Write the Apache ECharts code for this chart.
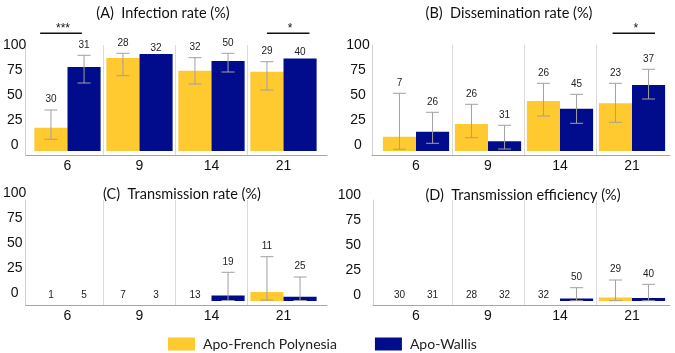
<!DOCTYPE html>
<html><head><meta charset="utf-8">
<script src="https://cdn.jsdelivr.net/npm/echarts@6/dist/echarts.min.js"></script>
<style>html,body{margin:0;padding:0;background:#fff}#c{width:675px;height:353px}</style>
</head><body><div id="c"></div>
<script>
// ---------- data ----------
const days = ['6', '9', '14', '21'];
const yTicks = [0, 25, 50, 75, 100];
const groups = ['Apo-French Polynesia', 'Apo-Wallis'];
const panelTitles = ['(A)  Infection rate (%)', '(B)  Dissemination rate (%)',
                     '(C)  Transmission rate (%)', '(D)  Transmission efficiency (%)'];

// (A) Infection rate
const infFrench   = [23.3, 92.9, 80.3, 79.3];
const infFrenchLo = [11.7, 75.3, 67.0, 61.0];
const infFrenchHi = [41.0, 97.7, 93.3, 89.3];
const infFrenchN  = [30, 28, 32, 29];
const infWallis   = [83.9, 96.9, 90.0, 92.5];
const infWallisLo = [68.0, null, 79.0, null];
const infWallisHi = [95.7, null, 97.7, null];
const infWallisN  = [31, 32, 50, 40];

// (B) Dissemination rate
const disFrench   = [14.3, 26.9, 50.0, 47.8];
const disFrenchLo = [1.7, 13.3, 35.0, 28.7];
const disFrenchHi = [57.7, 46.7, 67.7, 67.7];
const disFrenchN  = [7, 26, 26, 23];
const disWallis   = [19.2, 9.7, 42.2, 66.0];
const disWallisLo = [7.7, 2.0, 27.7, 52.0];
const disWallisHi = [38.7, 25.7, 56.7, 81.7];
const disWallisN  = [26, 31, 45, 37];

// (C) Transmission rate
const traFrench   = [0, 0, 0, 9.1];
const traFrenchLo = [null, null, null, 1.0];
const traFrenchHi = [null, null, null, 44.3];
const traFrenchN  = [1, 7, 13, 11];
const traWallis   = [0, 0, 5.5, 4.3];
const traWallisLo = [null, null, 0.5, 0.5];
const traWallisHi = [null, null, 28.7, 24.0];
const traWallisN  = [5, 3, 19, 25];

// (D) Transmission efficiency
const effFrench   = [0, 0, 0, 3.5];
const effFrenchLo = [null, null, null, 0.3];
const effFrenchHi = [null, null, null, 21.0];
const effFrenchN  = [30, 28, 32, 29];
const effWallis   = [0, 0, 2.5, 3.0];
const effWallisLo = [null, null, 0.3, 0.3];
const effWallisHi = [null, null, 13.3, 16.7];
const effWallisN  = [31, 32, 50, 40];

// significance annotations: panel index, day index, label
const sigPanels = [0, 0, 1];
const sigDays   = [0, 3, 3];
const sigLabels = ['***', '*', '*'];

// ---------- layout / styles ----------
const COLORS = ['#FFC930', '#000C8C'];
const NUM_FONT = 'Liberation Sans, Arial, sans-serif';
const TXT_FONT = 'Lato, Carlito, sans-serif';
const panelData = [
  [[infFrench, infFrenchLo, infFrenchHi, infFrenchN], [infWallis, infWallisLo, infWallisHi, infWallisN]],
  [[disFrench, disFrenchLo, disFrenchHi, disFrenchN], [disWallis, disWallisLo, disWallisHi, disWallisN]],
  [[traFrench, traFrenchLo, traFrenchHi, traFrenchN], [traWallis, traWallisLo, traWallisHi, traWallisN]],
  [[effFrench, effFrenchLo, effFrenchHi, effFrenchN], [effWallis, effWallisLo, effWallisHi, effWallisN]]
];
const layouts = [
  {frameLeft: 23,  frameW: 304, dataLeft: 31.5, top: 45,  height: 110, yMin: -4, yMax: 106, align: 'center', margin: 11, lh: 12, titleX: 158, titleTop: 1},
  {frameLeft: 372, frameW: 298, dataLeft: 380,  top: 45,  height: 110, yMin: -4, yMax: 106, align: 'center', margin: 14, lh: 12, titleX: 504, titleTop: 1},
  {frameLeft: 23,  frameW: 304, dataLeft: 31.5, top: 200, height: 105, yMin: -4, yMax: 101, align: 'center', margin: 11, lh: 16, titleX: 177, titleTop: 182},
  {frameLeft: 373, frameW: 297, dataLeft: 380,  top: 200, height: 105, yMin: -4, yMax: 101, align: 'right',  margin: 12, lh: 12, titleX: 518, titleTop: 183}
];
const sigSpan = [[-0.38, 0.2], [-0.23, 0.36], [-0.27, 0.32]];
const SIG_LEVEL = 117.7;

const grid = [], xAxis = [], yAxis = [], series = [], title = [];
const SEP = '#d9d9d9';

layouts.forEach((L, p) => {
  // frame grid (axis lines + y labels)
  grid.push({left: L.frameLeft, top: L.top, width: L.frameW, height: L.height});
  xAxis.push({type: 'value', gridIndex: p, min: 0, max: 1, axisLine: {show: true, onZero: false, lineStyle: {color: '#a6a6a6', width: 1}},
    axisTick: {show: false}, axisLabel: {show: false}, splitLine: {show: false}});
  yAxis.push({type: 'value', gridIndex: p, min: L.yMin, max: L.yMax,
    axisLine: {show: true, onZero: false, lineStyle: {color: '#d0d0d0', width: 1}},
    axisTick: {show: false}, splitLine: {show: false},
    axisLabel: {customValues: yTicks, align: L.align, margin: L.margin, fontSize: 14, fontFamily: NUM_FONT, color: '#111',
      verticalAlign: 'bottom', lineHeight: L.lh}});
  title.push({text: panelTitles[p], left: L.titleX, top: L.titleTop, textAlign: 'center',
    textStyle: {fontFamily: TXT_FONT, fontSize: 14.5, fontWeight: 'normal', color: '#111'}});
});
layouts.forEach((L, p) => {
  const gi = 4 + p;
  grid.push({left: L.dataLeft, top: L.top, width: 288, height: L.height});
  xAxis.push({type: 'category', gridIndex: gi, data: days, axisLine: {show: false}, axisTick: {show: false},
    axisLabel: {fontSize: 14, fontFamily: NUM_FONT, color: '#111', margin: 4},
    splitLine: {show: true, lineStyle: {color: ['rgba(0,0,0,0)', SEP, SEP, SEP, 'rgba(0,0,0,0)'], width: 1}}});
  yAxis.push({type: 'value', gridIndex: gi, min: L.yMin, max: L.yMax, show: false});

  panelData[p].forEach((g, s) => {
    const [vals, lo, hi, n] = g;
    series.push({name: groups[s], type: 'bar', xAxisIndex: gi, yAxisIndex: gi, data: vals,
      barGap: '0%', barCategoryGap: '8%', itemStyle: {color: COLORS[s]}, z: 2, silent: true});
  });
  panelData[p].forEach((g, s) => {
    const [vals, lo, hi, n] = g;
    const side = s === 0 ? -1 : 1;
    series.push({name: 'err' + p + s, type: 'custom', xAxisIndex: gi, yAxisIndex: gi, z: 5, silent: true, clip: false,
      encode: {x: 0, y: 3},
      data: days.map((d, i) => [i, lo[i] == null ? NaN : lo[i], hi[i] == null ? NaN : hi[i], vals[i], n[i]]),
      renderItem: (params, api) => {
        const idx = api.value(0), l = api.value(1), h = api.value(2), v = api.value(3), nn = api.value(4);
        const bw = api.size([1, 0])[0];
        const cx = api.coord([idx, 0])[0] + side * bw * 0.92 / 4;
        let topY = api.coord([idx, v])[1];
        let off = 6;
        const children = [];
        const st = {stroke: '#a0a0a0', lineWidth: 1};
        if (!isNaN(h)) {
          const yH = api.coord([idx, h])[1], yL = api.coord([idx, l])[1];
          children.push({type: 'line', shape: {x1: cx, y1: yH, x2: cx, y2: yL}, style: st});
          children.push({type: 'line', shape: {x1: cx - 6.5, y1: yH, x2: cx + 6.5, y2: yH}, style: st});
          children.push({type: 'line', shape: {x1: cx - 6.5, y1: yL, x2: cx + 6.5, y2: yL}, style: st});
          topY = Math.min(topY, yH);
          off = 10.5;
        }
        children.push({type: 'text', style: {text: String(nn), x: cx, y: topY - off, align: 'center', verticalAlign: 'middle',
          fontSize: 10, fontFamily: NUM_FONT, fill: '#222'}});
        return {type: 'group', children};
      }});
  });
});

// significance brackets
sigPanels.forEach((p, k) => {
  const gi = 4 + p;
  series.push({name: 'sig' + k, type: 'custom', xAxisIndex: gi, yAxisIndex: gi, z: 6, silent: true, clip: false,
    encode: {x: 0, y: 1},
    data: [[sigDays[k], SIG_LEVEL]],
    renderItem: (params, api) => {
      const idx = api.value(0), lv = api.value(1);
      const bw = api.size([1, 0])[0];
      const c = api.coord([idx, lv]);
      const x1 = c[0] + sigSpan[k][0] * bw, x2 = c[0] + sigSpan[k][1] * bw;
      return {type: 'group', children: [
        {type: 'line', shape: {x1: x1, y1: c[1], x2: x2, y2: c[1]}, style: {stroke: '#111', lineWidth: 1.6}},
        {type: 'text', style: {text: sigLabels[k], x: (x1 + x2) / 2 + 2, y: c[1] + 1, align: 'center', verticalAlign: 'bottom',
          fontSize: 12, fontFamily: NUM_FONT, fill: '#111'}}
      ]};
    }});
});

const chart = echarts.init(document.getElementById('c'), null, {renderer: 'canvas'});
chart.setOption({
  animation: false,
  backgroundColor: '#fff',
  title,
  grid, xAxis, yAxis, series,
  legend: {left: 168, top: 337, padding: 0, itemWidth: 27, itemHeight: 13, itemGap: 38,
    data: groups.map(g => ({name: g, icon: 'rect'})),
    textStyle: {fontFamily: TXT_FONT, fontSize: 14, color: '#222', padding: [0, 0, 0, 3]}}
});
</script></body></html>
